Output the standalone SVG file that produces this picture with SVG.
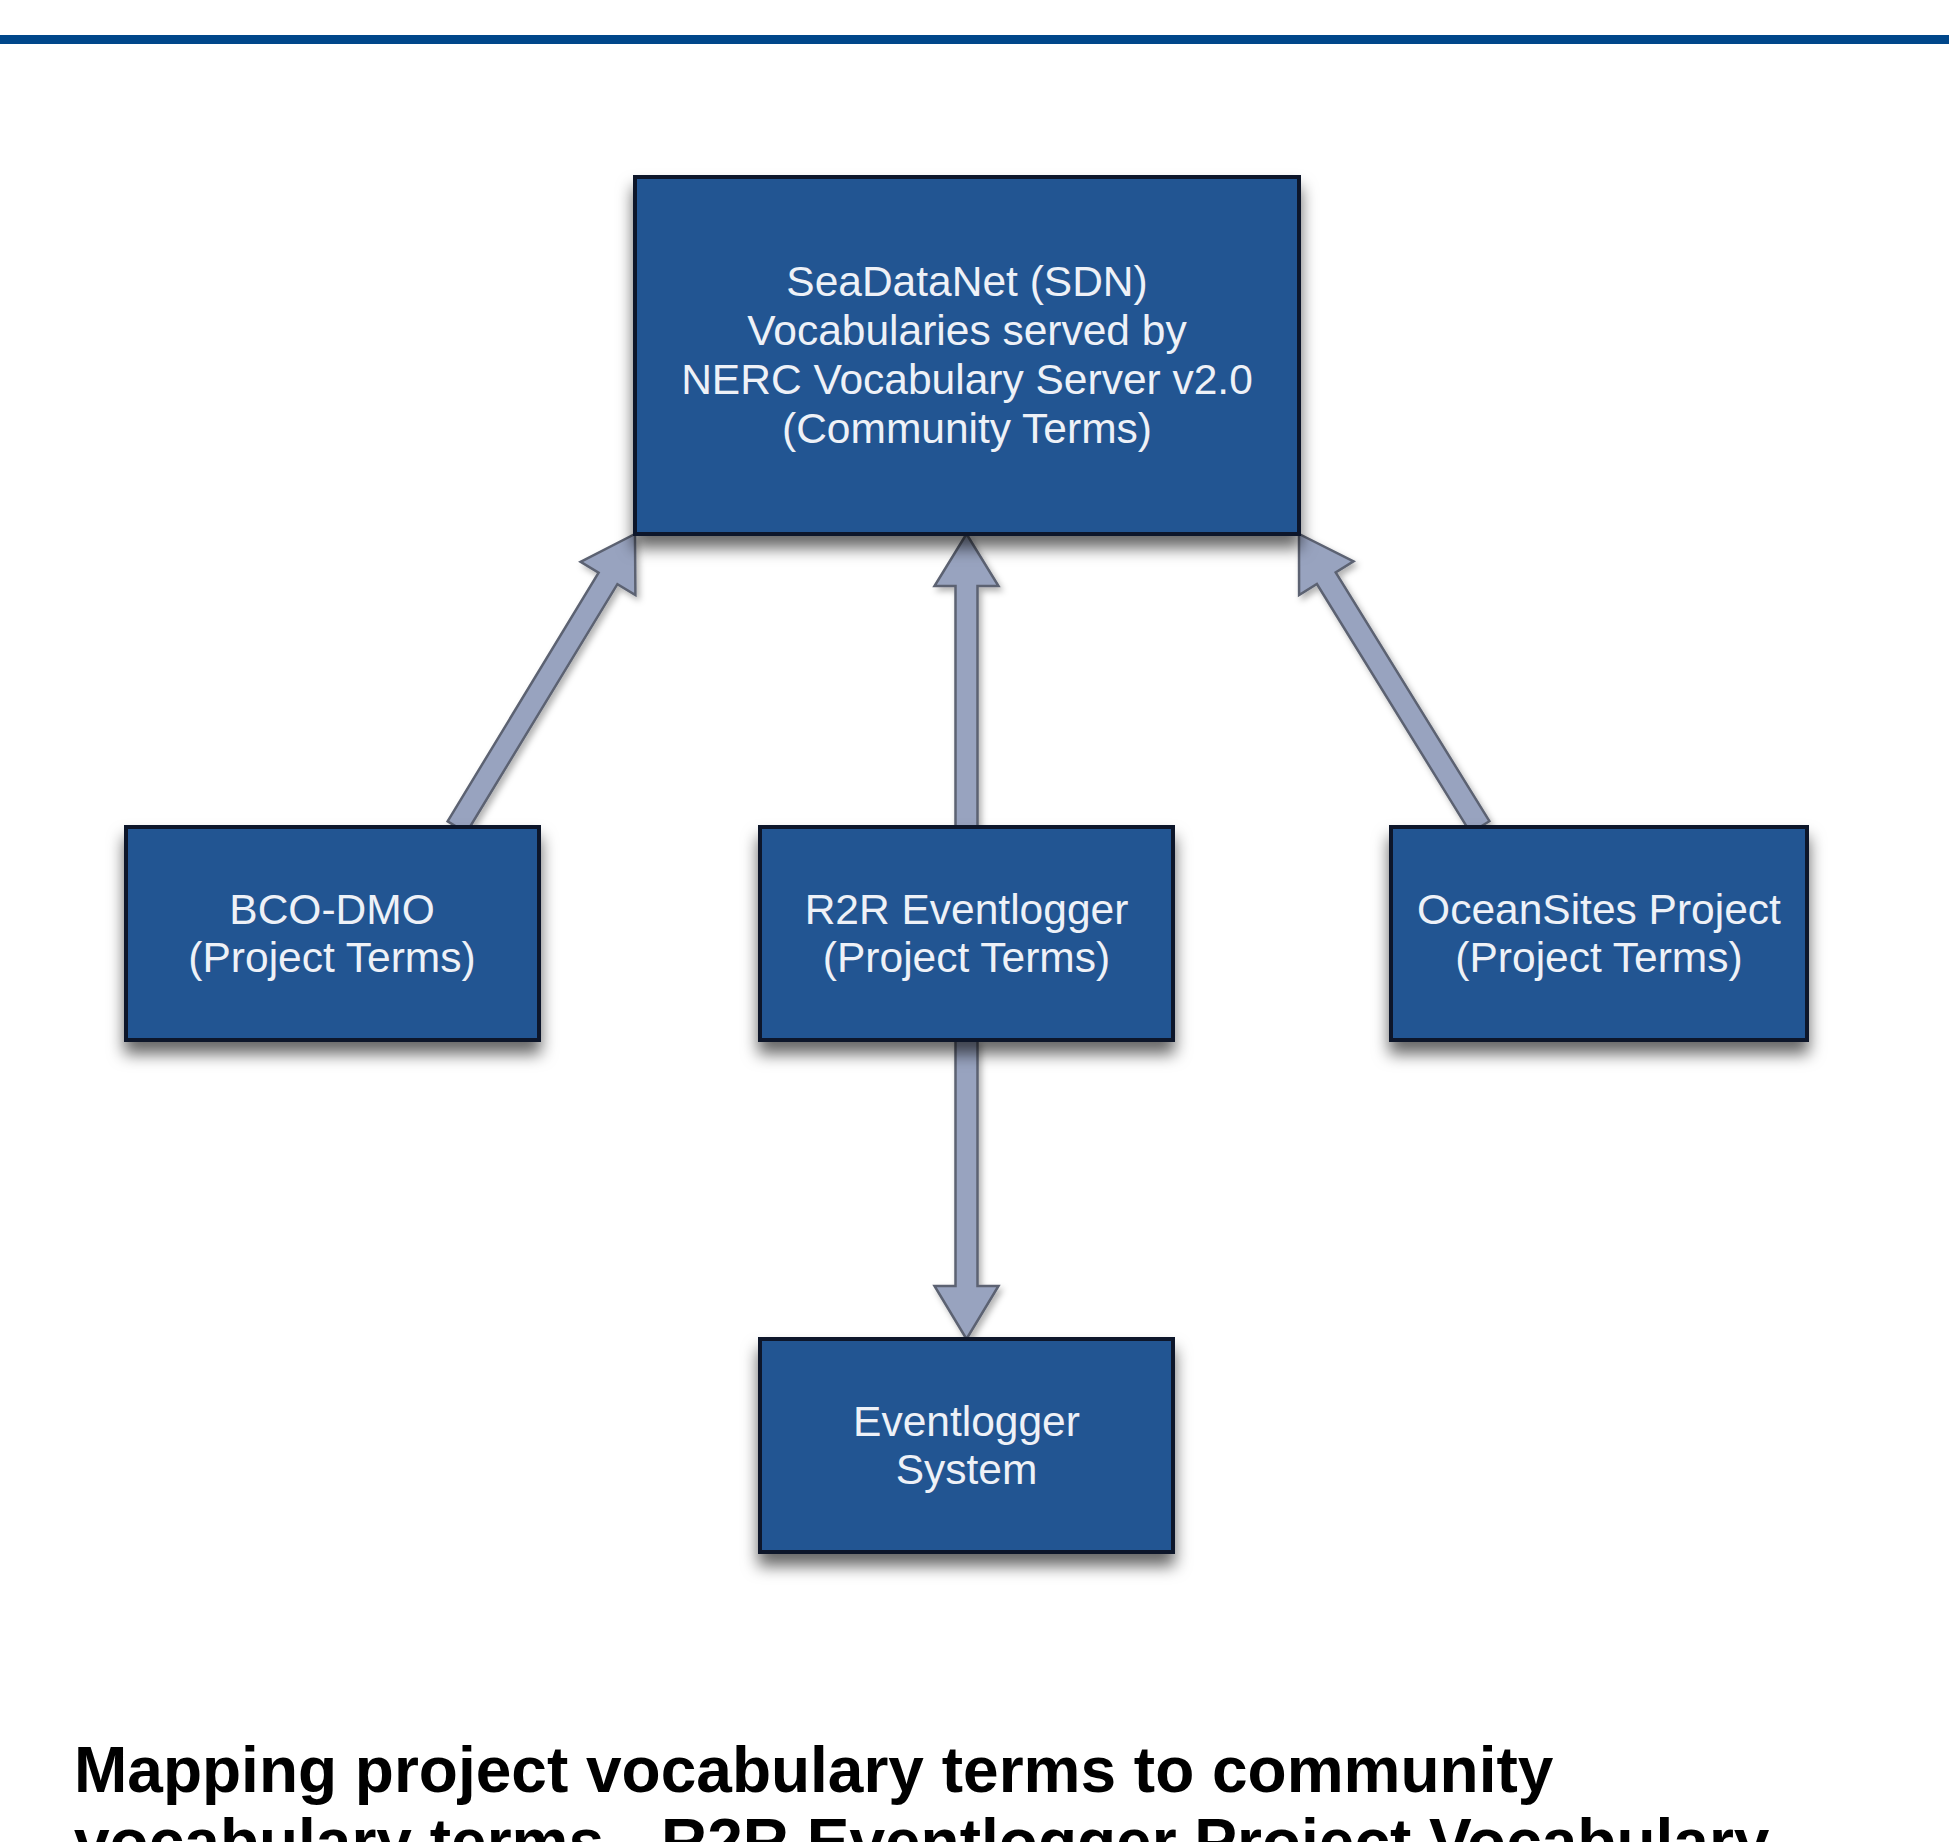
<svg xmlns="http://www.w3.org/2000/svg" width="1949" height="1842" viewBox="0 0 1949 1842">
  <style>
    .box { fill: #235592; stroke: #10182a; stroke-width: 4; filter: url(#shadow); }
    .lbl { font-family: "Liberation Sans", Arial, sans-serif; font-size: 42.5px; fill: #eef1f7; text-anchor: middle; }
    .arrow { fill: #98a3bf; stroke: #5c6272; stroke-width: 2.5; stroke-linejoin: miter; filter: url(#ashadow); }
    .cap { font-family: "Liberation Sans", Arial, sans-serif; font-size: 64px; font-weight: bold; fill: #000; }
  </style>
  <defs>
    <filter id="shadow" x="-10%" y="-10%" width="120%" height="140%">
      <feDropShadow dx="0" dy="12" stdDeviation="8" flood-color="#000" flood-opacity="0.6"/>
    </filter>
    <filter id="ashadow" x="-20%" y="-20%" width="140%" height="140%">
      <feDropShadow dx="3" dy="4" stdDeviation="3" flood-color="#000" flood-opacity="0.3"/>
    </filter>
  </defs>
  <rect x="0" y="0" width="1949" height="1842" fill="#ffffff"/>
  <rect x="0" y="35" width="1949" height="9" fill="#00478a"/>

  <g id="connectors">
    <polygon class="arrow" points="447.6,821.3 598.6,572.7 580.6,561.8 635,534 635.4,595 617.4,584.1 466.4,832.7"/>
    <polygon class="arrow" points="955.5,827 955.5,586 934.5,586 966.5,534 998.5,586 977.5,586 977.5,827"/>
    <polygon class="arrow" points="1489.4,821.2 1335.7,572.4 1353.5,561.4 1299,534 1299.1,595 1316.9,584 1470.6,832.8"/>
    <polygon class="arrow" points="955.5,1040 955.5,1286 934.5,1286 966.5,1339 998.5,1286 977.5,1286 977.5,1040"/>
  </g>

  <g id="node-sdn">
    <rect class="box" x="635" y="177" width="664" height="357"/>
    <text class="lbl" x="967" y="296">SeaDataNet (SDN)</text>
    <text class="lbl" x="967" y="345">Vocabularies served by</text>
    <text class="lbl" x="967" y="394">NERC Vocabulary Server v2.0</text>
    <text class="lbl" x="967" y="443">(Community Terms)</text>
  </g>

  <g id="node-bco">
    <rect class="box" x="126" y="827" width="413" height="213"/>
    <text class="lbl" x="332" y="924">BCO-DMO</text>
    <text class="lbl" x="332" y="972">(Project Terms)</text>
  </g>

  <g id="node-r2r">
    <rect class="box" x="760" y="827" width="413" height="213"/>
    <text class="lbl" x="966.5" y="924">R2R Eventlogger</text>
    <text class="lbl" x="966.5" y="972">(Project Terms)</text>
  </g>

  <g id="node-oceansites">
    <rect class="box" x="1391" y="827" width="416" height="213"/>
    <text class="lbl" x="1599" y="924">OceanSites Project</text>
    <text class="lbl" x="1599" y="972">(Project Terms)</text>
  </g>

  <g id="node-eventlogger">
    <rect class="box" x="760" y="1339" width="413" height="213"/>
    <text class="lbl" x="966.5" y="1436">Eventlogger</text>
    <text class="lbl" x="966.5" y="1484">System</text>
  </g>

  <g id="caption">
    <text class="cap" x="74" y="1792">Mapping project vocabulary terms to community</text>
    <text class="cap" x="74" y="1864">vocabulary terms - R2R Eventlogger Project Vocabulary</text>
  </g>
</svg>
